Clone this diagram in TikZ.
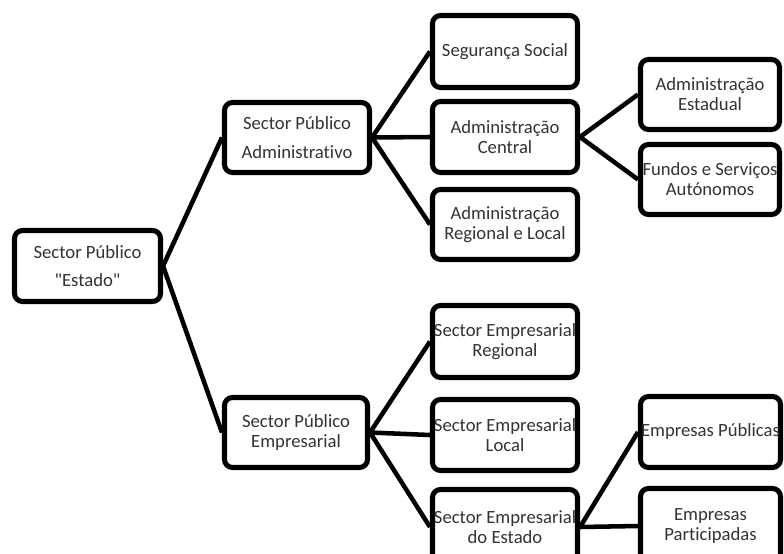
\documentclass[tikz,border=0pt]{standalone}
\usepackage{fontspec}
\newfontfamily\cf[Ligatures=NoCommon]{Carlito}
\begin{document}
\begin{tikzpicture}[x=0.75pt,y=-0.75pt,
  box/.style={draw=black, line width=3.8pt, rounded corners=6pt, align=center,
    inner sep=0pt, text=black!80, font=\cf\fontsize{14}{15}\selectfont, fill=white},
  conn/.style={draw=black, line width=3.4pt}]
\useasboundingbox (0,0) rectangle (784,553);
\clip (0,0) rectangle (784,553);
\fill[white] (0,0) rectangle (784,553);
% level 0
\node[box, minimum width=109.5pt, minimum height=53.25pt] (est) at (87.5,266) {Sector Público\\[6.5pt]"Estado"};
% level 1
\node[box, minimum width=108.75pt, minimum height=52.5pt] (spa) at (297,137.5) {Sector Público\\[6.5pt]Administrativo};
\node[box, minimum width=107.25pt, minimum height=52.5pt] (spe) at (296,432.5) {Sector Público\\Empresarial};
% level 2
\node[box, minimum width=108.75pt, minimum height=54pt] (seg) at (505,51.5) {Segurança Social};
\node[box, minimum width=108.75pt, minimum height=53.25pt] (adc) at (505,137) {Administração\\Central};
\node[box, minimum width=108.75pt, minimum height=52.5pt] (adr) at (505,224.5) {Administração\\Regional e Local};
\node[box, minimum width=108.75pt, minimum height=54pt] (ser) at (505,341.5) {Sector Empresarial\\Regional};
\node[box, minimum width=108.75pt, minimum height=53.25pt] (sel) at (505,435) {Sector Empresarial\\Local};
\node[box, minimum width=108.75pt, minimum height=56.25pt] (sed) at (505,527) {Sector Empresarial\\do Estado};
% level 3
\node[box, minimum width=104.25pt, minimum height=52.5pt] (ade) at (710,94.5) {Administração\\Estadual};
\node[box, minimum width=104.25pt, minimum height=52.5pt] (fun) at (710,179.5) {Fundos e Serviços\\Autónomos};
\node[box, minimum width=105pt, minimum height=53.25pt] (epu) at (710.5,432) {Empresas Públicas};
\node[box, minimum width=105pt, minimum height=56.25pt] (epa) at (710.5,526) {Empresas\\Participadas};
% connectors
\draw[conn] (est.east) -- (spa.west);
\draw[conn] (est.east) -- (spe.west);
\draw[conn] (spa.east) -- (seg.west);
\draw[conn] (spa.east) -- (adc.west);
\draw[conn] (spa.east) -- (adr.west);
\draw[conn] (adc.east) -- (ade.west);
\draw[conn] (adc.east) -- (fun.west);
\draw[conn] (spe.east) -- (ser.west);
\draw[conn] (spe.east) -- (sel.west);
\draw[conn] (spe.east) -- (sed.west);
\draw[conn] (sed.east) -- (epu.west);
\draw[conn] (sed.east) -- (epa.west);
\end{tikzpicture}
\end{document}
